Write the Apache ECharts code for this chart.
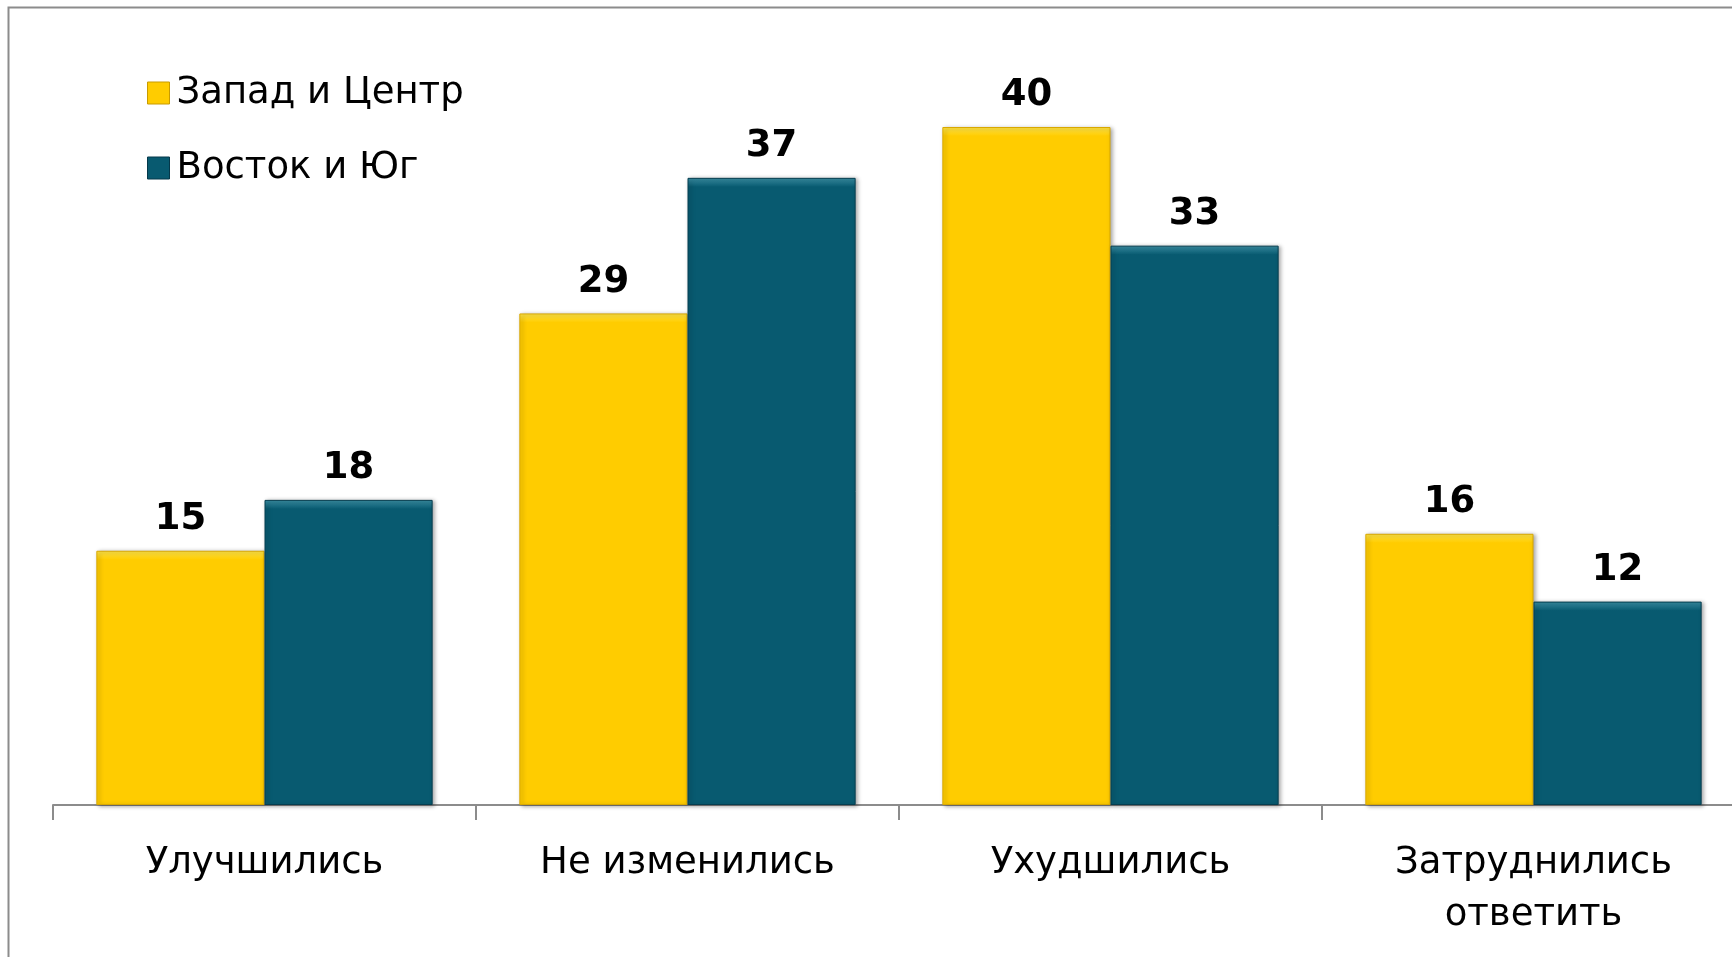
<!DOCTYPE html>
<html>
<head>
<meta charset="utf-8">
<script src="https://cdn.jsdelivr.net/npm/echarts@6/dist/echarts.min.js"></script>
<style>
  html, body { margin: 0; padding: 0; background: #fff; overflow: hidden; }
  /* полотно шире окна: правый край графика обрезан, как в исходнике */
  #chart { width: 1800px; height: 957px; }
</style>
</head>
<body>
<div id="chart"></div>
<script>
// категории и значения (%)
let categories = ['Улучшились', 'Не изменились', 'Ухудшились', 'Затруднились\nответить']
let westCenter = [15, 29, 40, 16]
let eastSouth = [18, 37, 33, 12]
let seriesNames = ['Запад и Центр', 'Восток и Юг']

let FONT = '"DejaVu Sans", Verdana, sans-serif'
let yMax = 45
let pxPerUnit = 16.95 // высота одной единицы, чтобы рассчитать верхнюю фаску

// столбец со светлой полосой сверху (имитация фаски)
function bevelItems (values, base, light, border) {
  return values.map(function (v) {
    let h = v * pxPerUnit
    let s = Math.min(9 / h, 0.2)
    return {
      value: v,
      itemStyle: {
        color: {
          type: 'linear', x: 0, y: 0, x2: 0, y2: 1,
          colorStops: [
            { offset: 0, color: light },
            { offset: s, color: base },
            { offset: 1, color: base }
          ]
        },
        borderColor: border,
        borderWidth: 1,
        shadowColor: 'rgba(0,0,0,0.35)',
        shadowBlur: 4,
        shadowOffsetX: 2,
        shadowOffsetY: 1
      }
    }
  })
}

let labelStyle = {
  show: true,
  position: 'top',
  distance: 13,
  color: '#000',
  fontFamily: FONT,
  fontWeight: 'bold',
  fontSize: 37,
  lineHeight: 37
}

let chart = echarts.init(document.getElementById('chart'))
let option = {
  animation: false,
  backgroundColor: '#fff',
  graphic: [{
    type: 'rect',
    shape: { x: 8.5, y: 7.5, width: 1850, height: 1000 },
    style: { fill: 'none', stroke: '#8c8c8c', lineWidth: 2 },
    silent: true
  }],
  legend: {
    orient: 'vertical',
    left: 142,
    top: 68,
    icon: 'rect',
    itemWidth: 22,
    itemHeight: 22,
    itemGap: 35,
    textStyle: {
      color: '#000',
      fontFamily: FONT,
      fontSize: 37,
      lineHeight: 40,
      padding: [0, 0, 0, 2]
    },
    data: [
      { name: seriesNames[0], itemStyle: { color: '#FFCC00', borderColor: '#C89B00', borderWidth: 1 } },
      { name: seriesNames[1], itemStyle: { color: '#085A70', borderColor: '#04384a', borderWidth: 1 } }
    ]
  },
  grid: {
    left: 53,
    width: 1692,
    top: 805 - yMax * pxPerUnit,
    height: yMax * pxPerUnit,
    containLabel: false
  },
  xAxis: {
    type: 'category',
    data: categories,
    axisLine: { show: true, lineStyle: { color: '#8c8c8c', width: 2 } },
    axisTick: { show: true, length: 15, lineStyle: { color: '#8c8c8c', width: 2 } },
    axisLabel: {
      color: '#000',
      fontFamily: FONT,
      fontSize: 37,
      lineHeight: 52,
      margin: 32,
      interval: 0
    }
  },
  yAxis: {
    type: 'value',
    min: 0,
    max: yMax,
    show: false,
    splitLine: { show: false }
  },
  series: [
    {
      name: seriesNames[0],
      type: 'bar',
      barGap: 0,
      barCategoryGap: '20.5%',
      data: bevelItems(westCenter, '#FFCC00', '#FFE54A', '#D9A800'),
      label: labelStyle
    },
    {
      name: seriesNames[1],
      type: 'bar',
      barGap: 0,
      barCategoryGap: '20.5%',
      data: bevelItems(eastSouth, '#085A70', '#3A8FA5', '#053E50'),
      label: labelStyle
    }
  ]
}
chart.setOption(option)
</script>
</body>
</html>
